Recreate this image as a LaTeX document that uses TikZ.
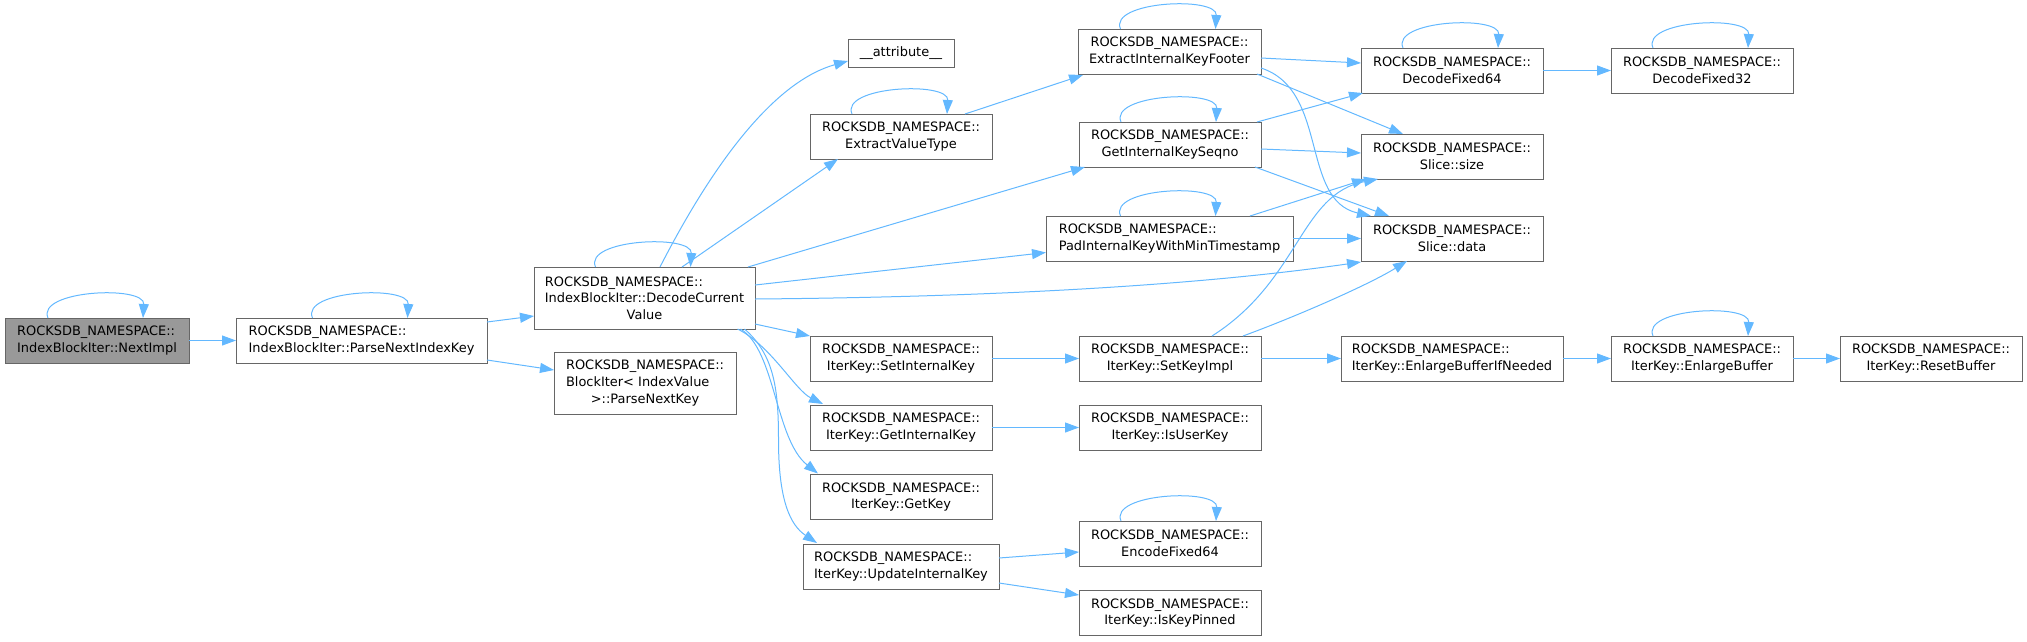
\documentclass[tikz,border=0pt]{standalone}
\usepackage{fontspec}
\setmainfont{DejaVu Sans}
\usetikzlibrary{arrows.meta,calc}
\definecolor{DoxyLine}{HTML}{666666}
\definecolor{DoxyRoot}{HTML}{999999}
\definecolor{DoxyEdge}{HTML}{63B8FF}

\begin{document}
\begin{tikzpicture}[x=1pt,y=-1pt,
    fn/.style={draw=DoxyLine,fill=white,line width=1pt,inner sep=2pt,outer sep=0pt,
      minimum width=182pt,minimum height=45pt,align=center,text=black,
      font=\fontsize{12.95}{16.7}\selectfont},
    call/.style={DoxyEdge,line width=1pt,-{Triangle[length=14pt,width=10pt]}}]
  \useasboundingbox (0,0) rectangle (2027,641);

  % first two columns
  \node[fn,fill=DoxyRoot,align=left,minimum width=184pt] (nextimpl) at (97,340.5) {ROCKSDB\_NAMESPACE::\\IndexBlockIter::NextImpl};
  \node[fn,align=left,minimum width=251pt] (parseidx) at (361.5,340.5) {ROCKSDB\_NAMESPACE::\\IndexBlockIter::ParseNextIndexKey};
  \node[fn,align=left,minimum width=221pt,minimum height=62pt] (decode) at (644.5,298) {ROCKSDB\_NAMESPACE::\\IndexBlockIter::DecodeCurrent\\\hspace*{\fill}Value\hspace*{\fill}};
  \node[fn,align=left,minimum height=62pt] (parsekey) at (645,383) {ROCKSDB\_NAMESPACE::\\BlockIter< IndexValue\\\hspace*{\fill}>::ParseNextKey\hspace*{\fill}};

  % callees of DecodeCurrentValue
  \node[fn,minimum width=106pt,minimum height=28pt] (attr) at (901,53) {\_\_attribute\_\_};
  \node[fn] (extracttype) at (901,136.5) {ROCKSDB\_NAMESPACE::\\ExtractValueType};
  \node[fn,minimum width=183pt] (footer) at (1169.5,51.5) {ROCKSDB\_NAMESPACE::\\ExtractInternalKeyFooter};
  \node[fn] (seqno) at (1170,144.5) {ROCKSDB\_NAMESPACE::\\GetInternalKeySeqno};
  \node[fn,align=left,minimum width=247pt] (pad) at (1169.5,238.5) {ROCKSDB\_NAMESPACE::\\PadInternalKeyWithMinTimestamp};
  \node[fn] (setikey) at (901,358.5) {ROCKSDB\_NAMESPACE::\\IterKey::SetInternalKey};
  \node[fn] (getikey) at (901,427.5) {ROCKSDB\_NAMESPACE::\\IterKey::GetInternalKey};
  \node[fn] (getkey) at (901,497) {ROCKSDB\_NAMESPACE::\\IterKey::GetKey};
  \node[fn,align=left,minimum width=196pt] (updikey) at (901,566.5) {ROCKSDB\_NAMESPACE::\\IterKey::UpdateInternalKey};

  % right part
  \node[fn] (fixed64) at (1452,70.5) {ROCKSDB\_NAMESPACE::\\DecodeFixed64};
  \node[fn] (slsize) at (1452,156.5) {ROCKSDB\_NAMESPACE::\\Slice::size};
  \node[fn] (sldata) at (1452,238.5) {ROCKSDB\_NAMESPACE::\\Slice::data};
  \node[fn] (setkeyimpl) at (1170,358.5) {ROCKSDB\_NAMESPACE::\\IterKey::SetKeyImpl};
  \node[fn] (isuserkey) at (1170,427.5) {ROCKSDB\_NAMESPACE::\\IterKey::IsUserKey};
  \node[fn] (encfixed) at (1170,543.5) {ROCKSDB\_NAMESPACE::\\EncodeFixed64};
  \node[fn] (ispinned) at (1170,613) {ROCKSDB\_NAMESPACE::\\IterKey::IsKeyPinned};
  \node[fn,align=left,minimum width=222pt] (enlargeif) at (1452,358.5) {ROCKSDB\_NAMESPACE::\\IterKey::EnlargeBufferIfNeeded};
  \node[fn] (fixed32) at (1702,70.5) {ROCKSDB\_NAMESPACE::\\DecodeFixed32};
  \node[fn] (enlarge) at (1702,358.5) {ROCKSDB\_NAMESPACE::\\IterKey::EnlargeBuffer};
  \node[fn] (resetbuf) at (1931,358.5) {ROCKSDB\_NAMESPACE::\\IterKey::ResetBuffer};

  % recursive calls
  \foreach \n in {nextimpl,parseidx,decode,extracttype,footer,seqno,pad,fixed64,fixed32,encfixed,enlarge} {
    \draw[call] ($(\n.north)+(-49,0)$) .. controls +(-12,-28) and +(2,-33) .. ($(\n.north)+(46,0)$);
  }

  % calls
  \draw[call] (nextimpl) -- (parseidx);
  \draw[call] ($(parseidx.north east)+(0,4)$) -- ($(decode.west)+(0,18)$);
  \draw[call] ($(parseidx.south east)+(0,-3)$) -- ($(parsekey.west)+(0,-13)$);
  \draw[call] ($(decode.north west)+(126,0)$) .. controls +(60,-117) and +(-68,19) .. ($(attr.west)+(0,8)$);
  \draw[call] ($(decode.north west)+(148,0)$) -- ($(extracttype.south west)+(28,0)$);
  \draw[call] ($(decode.north east)+(-7,0)$) -- ($(seqno.south west)+(6,0)$);
  \draw[call] ($(decode.east)+(0,-13)$) -- ($(pad.west)+(0,14)$);
  \draw[call] ($(decode.east)+(0,1)$) .. controls +(245,-2) and +(-160,23) .. ($(sldata.south west)+(0,1)$);
  \draw[call] ($(decode.south east)+(0,-5)$) -- (setikey.north west);
  \draw[call] ($(decode.south)+(93,0)$) .. controls +(33,16) and +(-28,-14) .. ($(getikey.north west)+(13,-1)$);
  \draw[call] ($(decode.south)+(96,0)$) .. controls +(35,21) and +(-43,-34) .. ($(getkey.north west)+(8,-1)$);
  \draw[call] ($(decode.south)+(100,0)$) .. controls +(30,26) and +(0,-50) .. ++(34,111)
    .. controls +(0,60) and +(-27,-18) .. ($(updikey.north west)+(14,-1)$);
  \draw[call] ($(extracttype.north east)+(-27,0)$) -- ($(footer.south west)+(5,1)$);
  \draw[call] ($(footer.east)+(0,6.5)$) -- ($(fixed64.west)+(0,-7.5)$);
  \draw[call] ($(footer.south east)+(-4,0)$) -- ($(slsize.north west)+(42,0)$);
  \draw[call] ($(footer.east)+(0,16.5)$) .. controls +(68,22) and +(-71,-16) .. ($(sldata.north west)+(10,0)$);
  \draw[call] ($(seqno.north east)+(-4,0)$) -- ($(fixed64.south west)+(2,0)$);
  \draw[call] ($(seqno.east)+(0,4.5)$) -- ($(slsize.west)+(0,-3.5)$);
  \draw[call] ($(seqno.south east)+(-6,0)$) -- ($(sldata.north west)+(28,0)$);
  \draw[call] ($(pad.north east)+(-43,0)$) -- ($(slsize.south west)+(5,0)$);
  \draw[call] (pad) -- (sldata);
  \draw[call] (setikey) -- (setkeyimpl);
  \draw[call] (getikey) -- (isuserkey);
  \draw[call] ($(updikey.east)+(0,-8.5)$) -- ($(encfixed.west)+(0,8.5)$);
  \draw[call] ($(updikey.east)+(0,16.5)$) -- ($(ispinned.west)+(0,-18)$);
  \draw[call] ($(setkeyimpl.north)+(42,0)$) .. controls +(88,-56) and +(-78,15) .. ($(slsize.south west)+(17,0)$);
  \draw[call] ($(setkeyimpl.north east)+(-18,0)$) .. controls +(57,-21) and +(-37,23) .. ($(sldata.south west)+(46,0)$);
  \draw[call] (setkeyimpl) -- (enlargeif);
  \draw[call] (fixed64) -- (fixed32);
  \draw[call] (enlargeif) -- (enlarge);
  \draw[call] (enlarge) -- (resetbuf);
\end{tikzpicture}
\end{document}
